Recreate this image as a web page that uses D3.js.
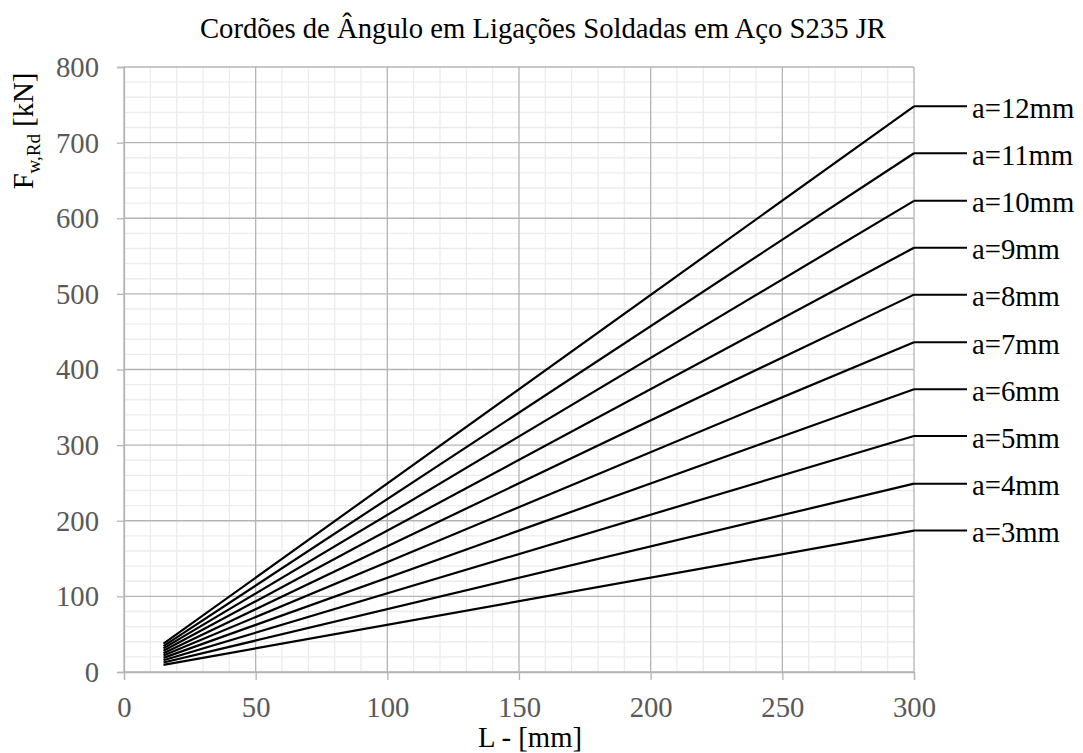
<!DOCTYPE html>
<html>
<head>
<meta charset="utf-8">
<script src="https://cdn.jsdelivr.net/npm/d3@7"></script>
<style>
  html, body { margin: 0; padding: 0; background: #fff; }
  svg { display: block; }
  text { font-family: "Liberation Serif", "Times New Roman", serif; }
</style>
</head>
<body>
<svg id="chart" width="1083" height="753"></svg>
<script>
// Weld throat thickness a (mm) for each fillet-weld line
const throats = [3, 4, 5, 6, 7, 8, 9, 10, 11, 12];
// Weld lengths L (mm) at the two ends of each line
const lengths = [15, 300];
// Design resistance F_w,Rd (kN) at L = 15 mm
const forceAtStart = [9.4, 12.5, 15.6, 18.7, 21.8, 24.9, 28.1, 31.2, 34.3, 37.4];
// Design resistance F_w,Rd (kN) at L = 300 mm
const forceAtEnd = [187, 249, 312, 374, 436, 499, 561, 623, 686, 748];
// Axis ticks
const xTicks = [0, 50, 100, 150, 200, 250, 300];
const yTicks = [0, 100, 200, 300, 400, 500, 600, 700, 800];

const svg = d3.select("#chart");
const plotLeft = 124, plotRight = 914, plotTop = 67, plotBottom = 672;
const fontSize = 28.7;

const x = d3.scaleLinear().domain([0, 300]).range([plotLeft, plotRight]);
const y = d3.scaleLinear().domain([0, 800]).range([plotBottom, plotTop]);

// Minor grid
const minorX = d3.range(0, 301, 10).filter(v => v % 50 !== 0);
const minorY = d3.range(0, 801, 20).filter(v => v % 100 !== 0);
const grid = svg.append("g");
grid.selectAll("line.mx").data(minorX).join("line")
  .attr("x1", d => x(d)).attr("x2", d => x(d))
  .attr("y1", plotTop).attr("y2", plotBottom)
  .attr("stroke", "#ececec").attr("stroke-width", 1.3);
grid.selectAll("line.my").data(minorY).join("line")
  .attr("x1", plotLeft).attr("x2", plotRight)
  .attr("y1", d => y(d)).attr("y2", d => y(d))
  .attr("stroke", "#ececec").attr("stroke-width", 1.3);
// Major grid
grid.selectAll("line.gx").data(xTicks).join("line")
  .attr("x1", d => x(d)).attr("x2", d => x(d))
  .attr("y1", plotTop).attr("y2", plotBottom)
  .attr("stroke", "#b4b4b4").attr("stroke-width", 1.3);
grid.selectAll("line.gy").data(yTicks).join("line")
  .attr("x1", plotLeft).attr("x2", plotRight)
  .attr("y1", d => y(d)).attr("y2", d => y(d))
  .attr("stroke", "#b4b4b4").attr("stroke-width", 1.3);

// Axes
const xAxis = svg.append("g").attr("transform", `translate(0,${plotBottom})`)
  .call(d3.axisBottom(x).tickValues(xTicks).tickSize(8).tickFormat(d3.format("d")));
const yAxis = svg.append("g").attr("transform", `translate(${plotLeft},0)`)
  .call(d3.axisLeft(y).tickValues(yTicks).tickSize(7).tickPadding(18).tickFormat(d3.format("d")));
[xAxis, yAxis].forEach(g => {
  g.select(".domain").attr("stroke", "#b4b4b4").attr("stroke-width", 1.3);
  g.selectAll(".tick line").attr("stroke", "#b4b4b4").attr("stroke-width", 1.3);
  g.selectAll(".tick text")
    .attr("fill", "#595959")
    .style("font-family", '"Liberation Serif", "Times New Roman", serif')
    .style("font-size", fontSize + "px");
});
xAxis.selectAll(".tick text").attr("y", 45).attr("dy", "0");
yAxis.selectAll(".tick text").attr("dy", "0.33em");

// Weld lines
const series = throats.map((a, i) => ({
  a,
  pts: [[lengths[0], forceAtStart[i]], [lengths[1], forceAtEnd[i]]]
}));
const line = d3.line().x(d => x(d[0])).y(d => y(d[1]));
svg.append("g").selectAll("path").data(series).join("path")
  .attr("d", d => line(d.pts))
  .attr("fill", "none").attr("stroke", "#000").attr("stroke-width", 2.2);

// End labels with leader lines
const labels = svg.append("g");
series.forEach(s => {
  const endY = y(s.pts[1][1]);
  labels.append("line")
    .attr("x1", x(300)).attr("x2", x(300) + 53)
    .attr("y1", endY).attr("y2", endY)
    .attr("stroke", "#000").attr("stroke-width", 2);
  labels.append("text")
    .attr("x", x(300) + 58).attr("y", endY).attr("dy", "0.4em")
    .attr("font-size", fontSize).attr("fill", "#000")
    .text(`a=${s.a}mm`);
});

// Title
svg.append("text")
  .attr("x", 543).attr("y", 38).attr("text-anchor", "middle")
  .attr("font-size", fontSize).attr("fill", "#000")
  .text("Cordões de Ângulo em Ligações Soldadas em Aço S235 JR");

// Axis titles
svg.append("text")
  .attr("x", 530).attr("y", 747).attr("text-anchor", "middle")
  .attr("font-size", fontSize).attr("fill", "#000")
  .text("L - [mm]");

const yTitle = svg.append("text")
  .attr("transform", "translate(33,131) rotate(-90)")
  .attr("text-anchor", "middle")
  .attr("font-size", fontSize).attr("fill", "#000");
yTitle.append("tspan").text("F");
yTitle.append("tspan").attr("font-size", 19).attr("dy", 7).text("w,Rd");
yTitle.append("tspan").attr("dy", -7).text(" [kN]");
</script>
</body>
</html>
